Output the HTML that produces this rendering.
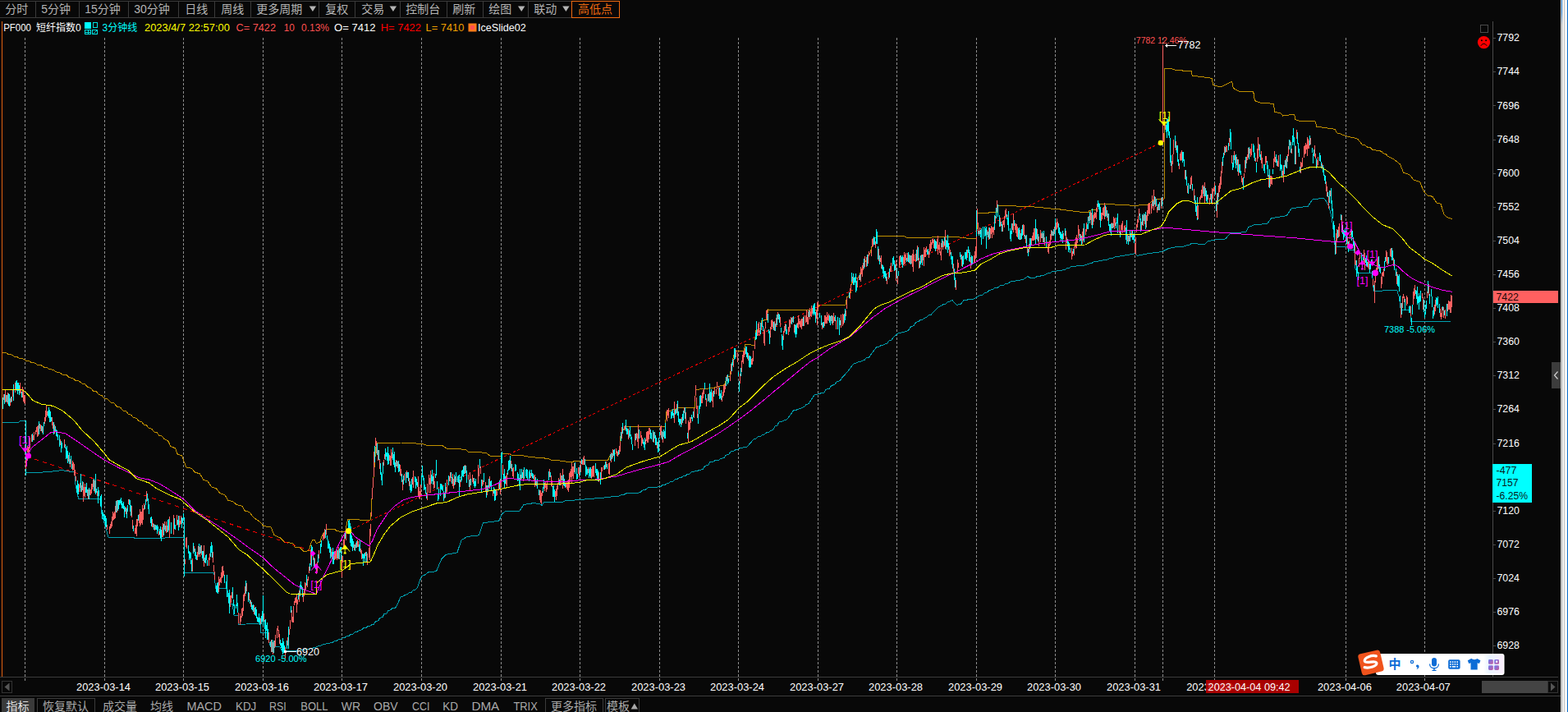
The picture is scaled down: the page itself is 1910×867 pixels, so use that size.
<!DOCTYPE html>
<html><head><meta charset="utf-8"><title>PF000</title>
<style>html,body{margin:0;padding:0;background:#080808;width:1910px;height:867px;overflow:hidden;font-family:"Liberation Sans",sans-serif}</style>
</head><body>
<svg width="1910" height="867" viewBox="0 0 1910 867" font-family="Liberation Sans, sans-serif" style="position:absolute;left:0;top:0">
<rect width="1910" height="867" fill="#080808"/>
<g shape-rendering="crispEdges" stroke="#8c8c8c" stroke-width="1" stroke-dasharray="3 2">
<line x1="30.5" y1="46" x2="30.5" y2="829"/>
<line x1="127.5" y1="46" x2="127.5" y2="829"/>
<line x1="223.5" y1="46" x2="223.5" y2="829"/>
<line x1="320.5" y1="46" x2="320.5" y2="829"/>
<line x1="416.5" y1="46" x2="416.5" y2="829"/>
<line x1="513.5" y1="46" x2="513.5" y2="829"/>
<line x1="610.5" y1="46" x2="610.5" y2="829"/>
<line x1="706.5" y1="46" x2="706.5" y2="829"/>
<line x1="803.5" y1="46" x2="803.5" y2="829"/>
<line x1="899.5" y1="46" x2="899.5" y2="829"/>
<line x1="996.5" y1="46" x2="996.5" y2="829"/>
<line x1="1092.5" y1="46" x2="1092.5" y2="829"/>
<line x1="1189.5" y1="46" x2="1189.5" y2="829"/>
<line x1="1285.5" y1="46" x2="1285.5" y2="829"/>
<line x1="1382.5" y1="46" x2="1382.5" y2="829"/>
<line x1="1416.5" y1="46" x2="1416.5" y2="829"/>
<line x1="1479.5" y1="46" x2="1479.5" y2="829"/>
<line x1="1639.5" y1="46" x2="1639.5" y2="829"/>
<line x1="1735.5" y1="46" x2="1735.5" y2="829"/>
</g>
<g shape-rendering="crispEdges">
<rect x="0" y="824" width="1898" height="1" fill="#3c3c3c"/>
<rect x="0" y="847" width="1901" height="1" fill="#3c3c3c"/>
<rect x="1818" y="26" width="1" height="798" fill="#4a4a4a"/>
<rect x="2" y="26" width="1" height="798" fill="#e06010"/>
</g>
<g shape-rendering="crispEdges">
<polyline points="3.0,514.7 22.0,514.7 25.0,512.0 31.0,512.0 31.5,576.0 60.0,574.6 75.0,572.6 91.0,575.0 92.0,590.0 95.7,607.7 121.9,607.7 124.0,626.0 132.0,654.0 163.8,654.0 164.0,656.0 224.0,654.4 224.0,697.0 260.7,697.0 262.7,716.0 276.7,716.0 279.0,735.0 283.0,735.0 285.0,749.0 290.0,749.0 290.7,760.5 317.3,759.0 317.3,770.7 325.0,770.7 329.5,787.8 341.0,787.8 343.5,793.0 347.3,793.0 361.0,792.4 365.0,792.2 367.8,791.3 371.7,791.0 374.7,790.1 379.1,789.9 381.5,789.0 384.3,788.6 386.6,787.1 389.8,786.7 391.7,785.3 401.8,783.0 404.9,782.6 406.9,781.0 409.7,780.6 412.0,779.0 415.1,778.6 417.0,777.0 419.7,776.6 422.0,775.0 425.1,774.5 427.1,772.5 430.0,772.0 432.3,770.0 435.1,769.5 437.4,767.5 440.4,767.0 442.4,765.0 445.8,764.6 447.5,763.0 450.4,762.6 452.6,761.0 455.5,760.0 457.6,756.6 460.9,755.7 462.7,752.3 466.2,751.3 467.8,747.8 471.0,746.9 472.9,743.4 475.9,742.8 477.9,740.8 481.5,740.3 483.0,738.3 488.0,727.0 490.8,726.4 493.1,724.4 496.6,723.8 498.3,721.8 501.3,721.1 503.4,718.6 506.2,718.0 508.4,715.5 513.5,701.5 517.6,700.0 521.4,697.0 531.5,695.7 537.9,680.5 543.0,675.4 556.9,672.9 562.0,657.7 568.3,653.9 571.2,653.7 573.4,653.0 576.4,652.8 578.5,652.2 581.9,652.0 583.6,651.3 588.6,636.6 607.7,634.3 611.5,625.9 615.3,622.9 633.0,622.0 638.0,614.5 650.8,612.5 658.4,614.0 660.2,615.8 662.2,612.0 673.7,611.2 683.8,612.0 688.9,609.4 700.0,609.0 725.4,606.9 729.0,606.8 731.8,606.2 735.8,606.1 738.1,605.6 742.2,605.5 744.4,604.9 748.3,604.8 750.8,604.3 754.8,603.9 757.1,602.4 760.6,602.0 763.5,600.5 776.0,600.5 779.5,599.8 782.4,597.2 786.1,596.5 788.8,594.0 801.5,593.0 804.8,592.6 806.6,591.0 809.7,590.6 811.7,589.0 814.7,588.5 816.8,586.5 820.0,586.0 821.8,584.0 824.9,583.6 826.9,582.0 829.9,581.6 832.0,580.0 835.3,579.5 837.0,577.5 840.3,577.0 842.0,575.0 852.3,572.6 856.0,571.5 858.6,567.5 862.7,566.4 865.0,562.4 869.0,562.0 871.4,560.5 875.7,560.1 877.7,558.6 881.9,557.6 884.0,554.2 887.8,553.2 890.4,549.7 893.9,549.3 895.5,547.9 898.3,547.4 900.5,546.0 903.6,545.7 905.6,544.7 909.0,544.4 910.7,543.4 918.3,534.5 921.1,533.9 923.3,532.0 926.5,531.4 928.4,529.4 931.2,528.9 933.5,526.9 936.8,526.4 938.6,524.4 941.9,523.3 943.7,519.2 946.8,518.1 948.7,514.0 952.2,513.6 953.8,512.2 956.8,511.8 958.9,510.4 966.5,500.0 969.8,499.6 971.5,498.2 974.8,497.8 976.6,496.4 979.8,495.6 981.7,492.6 984.8,491.8 986.8,488.8 991.9,481.0 999.5,479.0 1003.9,478.0 1006.0,474.2 1010.5,473.2 1012.5,469.5 1016.6,468.5 1019.1,464.8 1023.3,463.7 1025.6,460.0 1032.0,453.2 1039.6,443.0 1042.4,442.6 1044.7,441.1 1047.9,440.7 1049.7,439.2 1053.0,438.5 1054.8,436.0 1058.4,435.4 1059.9,432.9 1067.5,422.7 1070.9,422.3 1072.6,420.9 1075.6,420.4 1077.7,419.0 1080.7,418.2 1082.8,415.1 1086.0,414.3 1087.8,411.3 1093.4,406.2 1103.0,403.7 1106.5,402.4 1109.3,398.0 1113.2,396.7 1115.7,392.3 1118.6,391.7 1120.8,389.8 1123.6,389.2 1125.9,387.2 1128.7,386.5 1131.0,384.0 1134.3,383.4 1136.0,380.9 1143.7,373.2 1146.5,372.6 1148.8,370.7 1151.7,370.1 1153.8,368.2 1160.0,365.6 1165.2,371.5 1170.5,370.2 1174.0,365.6 1186.8,363.9 1192.7,360.0 1197.0,359.3 1199.1,356.6 1202.6,355.9 1205.4,353.2 1209.3,352.6 1211.7,350.6 1215.7,350.0 1218.0,348.0 1222.4,347.4 1224.4,345.5 1228.7,344.9 1230.8,343.0 1246.0,340.5 1251.8,336.7 1256.0,338.7 1260.3,338.3 1262.4,337.0 1266.1,336.7 1268.8,335.4 1272.7,334.9 1275.2,333.1 1278.9,332.6 1281.5,330.8 1294.2,329.0 1297.7,328.5 1299.3,326.9 1302.8,326.4 1304.4,324.7 1319.6,323.2 1323.2,322.7 1325.9,321.1 1329.6,320.6 1332.3,319.0 1336.0,318.7 1338.7,317.7 1342.3,317.4 1345.0,316.4 1348.9,316.0 1351.3,314.7 1355.4,314.3 1357.7,313.0 1373.0,310.5 1382.5,308.8 1385.6,311.3 1398.3,308.8 1401.7,308.6 1404.2,307.9 1407.4,307.7 1410.1,307.1 1413.7,306.9 1416.0,306.2 1423.7,302.4 1433.8,300.4 1440.0,300.3 1443.3,299.9 1445.5,298.5 1449.0,298.0 1451.0,296.6 1467.7,297.5 1471.4,293.8 1479.7,292.0 1492.6,291.0 1499.0,283.7 1517.5,282.7 1521.2,276.3 1528.6,273.5 1543.4,272.6 1548.9,265.2 1553.2,265.0 1555.1,264.3 1559.1,264.1 1561.2,263.3 1565.1,263.1 1567.4,262.4 1572.9,254.0 1584.0,252.3 1593.2,251.4 1598.7,243.0 1612.6,241.2 1615.3,244.9 1619.0,251.4 1621.9,263.5 1623.7,276.0 1626.2,300.0 1641.0,300.0 1642.2,304.0 1649.8,304.0 1651.0,327.0 1654.0,332.0 1671.4,332.0 1673.4,354.3 1701.8,353.5 1704.4,362.4 1706.4,377.7 1718.3,377.7 1719.0,391.6 1768.6,391.0" fill="none" stroke="#00a0b0" stroke-width="1" />
<polyline points="3.0,429.0 7.5,429.6 10.0,431.5 14.5,432.1 17.0,434.0 20.8,434.6 24.0,436.5 28.8,437.1 31.0,439.0 35.8,439.6 38.2,441.6 43.2,442.2 45.5,444.2 50.3,444.8 52.8,446.9 57.1,447.5 60.0,449.5 64.8,450.2 68.0,452.8 72.5,453.5 76.0,456.0 81.1,456.8 84.0,459.7 88.4,460.5 92.0,463.3 96.4,464.1 100.0,467.0 103.9,468.0 106.8,471.5 110.6,472.5 113.5,476.0 117.5,477.0 120.2,480.5 124.0,481.5 127.0,485.0 131.1,486.1 134.7,490.0 139.0,491.1 142.3,495.0 146.6,496.1 150.0,500.0 153.7,500.9 156.2,504.2 159.7,505.2 162.5,508.5 166.7,509.4 168.8,512.8 172.7,513.7 175.0,517.0 178.5,518.0 181.2,521.4 184.9,522.3 187.5,525.8 191.2,526.7 193.8,530.1 197.5,531.1 200.0,534.5 204.5,536.5 208.0,543.7 213.4,545.7 216.0,552.8 221.6,554.9 224.0,562.0 227.0,569.0 233.4,570.3 237.4,575.0 243.6,577.0 247.5,584.0 253.1,586.0 257.7,593.0 263.3,594.7 267.8,600.6 273.9,602.6 278.0,609.5 283.8,610.6 288.0,614.6 294.9,616.2 298.3,622.0 304.0,623.7 308.4,629.8 317.3,636.0 321.0,640.7 330.0,641.7 333.8,651.4 341.4,655.0 346.5,660.0 356.6,661.5 359.2,666.6 365.0,666.3 370.0,671.4 376.4,670.8 379.0,660.6 380.9,657.4 383.4,657.4 385.3,661.2 389.7,660.6 392.3,651.7 398.0,644.7 408.0,644.4 410.0,646.9 420.8,647.3 423.4,632.7 436.0,632.4 438.6,633.3 451.3,633.0 452.3,620.0 453.0,607.0 455.4,576.4 458.4,539.0 488.4,539.0 513.8,540.4 518.8,542.0 539.0,542.7 544.2,546.0 567.0,547.3 570.9,550.6 587.4,551.0 592.9,552.0 597.5,555.6 610.2,556.0 611.5,552.3 619.0,552.3 622.9,554.0 635.6,554.4 645.7,556.6 658.4,557.4 662.8,557.7 664.7,558.7 668.6,559.0 671.0,560.0 683.8,561.2 696.5,563.0 700.3,561.2 710.0,561.0 711.4,560.0 740.6,560.4 743.0,554.8 746.3,554.2 748.8,552.2 752.4,551.7 754.6,549.7 756.3,527.0 762.2,519.3 776.0,519.8 810.4,519.3 811.7,501.5 815.2,501.0 818.0,499.2 822.0,498.8 824.4,497.0 846.7,496.4 847.2,474.4 857.4,473.6 862.7,473.3 865.0,472.3 870.2,472.0 872.6,471.0 882.7,468.5 885.3,459.6 889.0,458.4 890.9,445.7 895.0,427.4 906.3,427.3 907.6,419.7 919.0,420.2 920.8,402.4 926.6,400.0 927.4,390.3 933.8,389.7 935.5,377.0 950.8,377.6 996.4,377.0 997.7,371.5 1030.0,371.5 1031.5,361.8 1035.8,359.3 1037.6,340.3 1046.0,337.7 1052.3,321.2 1060.0,308.5 1063.7,293.3 1068.0,287.5 1100.5,287.5 1105.6,289.5 1133.5,289.5 1137.3,288.2 1166.5,288.7 1179.2,290.3 1189.6,290.3 1190.7,259.3 1214.3,258.8 1215.5,250.7 1251.0,251.2 1255.6,251.4 1258.1,251.9 1262.3,252.1 1265.2,252.6 1269.5,252.8 1272.4,253.3 1276.4,253.5 1279.5,254.0 1284.2,254.2 1286.6,254.7 1291.0,254.9 1293.6,255.5 1298.2,255.7 1300.5,256.3 1304.7,256.5 1307.5,257.2 1311.5,257.4 1314.5,258.0 1326.0,258.8 1327.2,256.2 1334.8,255.5 1337.9,248.6 1357.7,249.0 1383.0,250.4 1398.3,249.0 1405.9,242.8 1416.8,242.3 1418.5,242.0 1418.5,83.3 1425.7,83.3 1433.3,85.8 1451.0,86.3 1452.3,92.2 1457.7,92.5 1460.3,93.5 1465.9,93.7 1468.4,94.7 1473.8,95.0 1476.4,96.0 1477.7,103.6 1486.6,106.0 1491.7,103.6 1500.6,99.3 1502.3,107.4 1509.4,111.2 1526.7,111.7 1528.5,122.6 1534.8,125.0 1551.3,126.4 1553.0,136.6 1559.5,137.6 1562.7,141.0 1576.7,139.0 1578.0,145.5 1583.0,147.3 1602.0,147.8 1603.9,154.4 1608.9,154.6 1611.3,155.5 1616.2,155.7 1618.8,156.6 1623.1,156.8 1626.2,157.7 1628.7,162.0 1632.0,162.4 1634.1,163.9 1637.2,164.3 1639.4,165.8 1643.4,166.2 1646.7,167.7 1650.7,168.1 1654.0,169.6 1659.2,176.0 1662.9,176.7 1665.6,179.2 1669.2,179.8 1671.9,182.3 1679.5,183.6 1682.9,184.3 1684.8,186.8 1688.4,187.5 1690.0,190.0 1698.0,194.0 1705.6,200.0 1709.4,210.0 1717.0,212.7 1722.0,219.0 1729.7,221.6 1733.6,231.7 1738.6,238.0 1745.0,239.3 1750.0,247.0 1755.0,248.2 1759.0,261.0 1762.7,264.7 1768.6,266.5" fill="none" stroke="#c09000" stroke-width="1" />
<line x1="33" y1="556" x2="380" y2="671" stroke="#ff0000" stroke-width="1" stroke-dasharray="5 5"/>
<line x1="424.5" y1="646.5" x2="1414" y2="174" stroke="#ff0000" stroke-width="1" stroke-dasharray="3 3"/>
<path d="M3.5 484V498M5.5 480V492M8.5 481V490M10.5 479V494M11.5 480V495M13.5 483V490M16.5 468V488M19.5 464V474M20.5 463V476M21.5 466V480M22.5 466V476M23.5 469V481M26.5 477V484M39.5 528V538M47.5 513V529M50.5 518V525M52.5 519V529M53.5 514V519M58.5 500V507M59.5 496V509M60.5 499V514M61.5 501V514M62.5 508V513M65.5 514V529M67.5 519V526M68.5 523V531M69.5 524V532M70.5 529V536M72.5 530V544M74.5 537V551M75.5 539V546M79.5 541V546M80.5 545V559M81.5 543V558M82.5 549V564M84.5 551V565M86.5 555V565M87.5 565V571M93.5 591V600M94.5 585V602M95.5 589V602M98.5 577V599M100.5 586V597M104.5 593V600M105.5 588V600M106.5 596V604M108.5 594V608M114.5 583V598M116.5 577V602M117.5 595V600M119.5 593V613M120.5 597V604M122.5 604V616M123.5 602V618M124.5 621V632M125.5 624V629M126.5 626V633M127.5 627V635M128.5 628V641M129.5 631V642M141.5 610V624M143.5 609V622M144.5 609V620M145.5 609V615M146.5 608V613M147.5 606V615M148.5 610V619M149.5 613V619M150.5 611V620M151.5 616V630M152.5 618V623M154.5 619V631M155.5 615V623M157.5 608V615M158.5 609V623M159.5 615V628M162.5 640V647M168.5 627V634M176.5 615V620M177.5 608V615M179.5 601V610M180.5 607V620M181.5 614V626M183.5 630V637M184.5 629V641M187.5 638V645M189.5 639V645M190.5 640V645M191.5 639V650M192.5 641V647M194.5 644V651M195.5 641V655M196.5 645V659M199.5 638V652M201.5 640V647M204.5 633V648M205.5 632V646M208.5 636V650M212.5 631V644M213.5 639V645M216.5 633V639M217.5 628V646M221.5 630V643M222.5 631V637M223.5 625V632M224.5 630V702M229.5 664V674M230.5 671V682M231.5 672V680M232.5 673V687M233.5 682V696M235.5 661V674M237.5 668V677M238.5 672V681M239.5 676V682M242.5 662V675M244.5 664V674M246.5 671V680M247.5 671V683M249.5 679V685M250.5 676V686M251.5 675V682M252.5 682V689M256.5 665V678M257.5 660V673M258.5 664V679M263.5 713V721M264.5 710V722M265.5 709V723M273.5 700V710M275.5 708V717M276.5 700V727M278.5 722V734M279.5 718V747M283.5 715V729M284.5 730V738M285.5 736V748M287.5 736V741M288.5 724V738M289.5 734V746M299.5 707V723M302.5 721V733M304.5 730V735M306.5 733V742M307.5 737V743M308.5 736V745M310.5 740V749M311.5 739V750M312.5 742V753M313.5 751V757M314.5 752V758M315.5 747V758M316.5 752V761M318.5 750V760M319.5 744V757M320.5 743V754M322.5 755V766M323.5 754V777M324.5 761V768M325.5 758V779M326.5 766V779M329.5 781V788M331.5 779V794M333.5 780V795M341.5 779V786M342.5 783V789M343.5 783V792M344.5 777V797M345.5 781V795M346.5 786V794M349.5 780V790M351.5 763V790M354.5 738V746M363.5 722V730M365.5 712V726M366.5 708V717M367.5 713V718M368.5 715V727M373.5 700V713M377.5 686V695M379.5 664V690M380.5 666V674M382.5 679V690M384.5 687V693M387.5 675V685M390.5 662V674M391.5 658V666M396.5 645V655M398.5 652V657M399.5 657V668M400.5 659V668M401.5 662V673M402.5 666V680M404.5 672V681M405.5 667V687M406.5 672V687M411.5 670V680M413.5 668V681M414.5 666V673M415.5 666V683M420.5 649V656M424.5 634V643M425.5 633V649M426.5 637V661M427.5 641V665M428.5 652V666M429.5 656V671M430.5 659V667M432.5 663V671M434.5 659V667M437.5 663V671M438.5 658V672M441.5 674V680M442.5 675V689M443.5 674V680M444.5 673V685M446.5 672V684M456.5 543V563M459.5 540V554M461.5 548V560M463.5 564V578M464.5 575V585M465.5 577V591M466.5 563V577M469.5 546V560M470.5 551V556M471.5 551V561M472.5 544V566M473.5 552V565M478.5 545V560M479.5 553V566M480.5 550V569M481.5 563V575M483.5 561V568M485.5 561V575M486.5 565V574M489.5 577V587M491.5 579V590M494.5 575V588M496.5 575V582M497.5 575V586M499.5 586V597M500.5 590V600M501.5 583V598M505.5 580V587M506.5 581V595M507.5 583V591M508.5 587V593M513.5 579V591M514.5 567V581M515.5 579V585M516.5 582V597M517.5 590V596M518.5 593V601M519.5 600V607M525.5 578V589M526.5 572V586M527.5 580V590M530.5 577V582M531.5 560V579M532.5 586V596M533.5 602V610M534.5 595V608M536.5 589V604M537.5 589V596M538.5 590V597M539.5 592V598M540.5 598V610M542.5 588V606M546.5 579V591M549.5 575V582M550.5 581V589M553.5 578V591M555.5 575V587M557.5 580V587M558.5 579V588M559.5 578V604M561.5 580V587M562.5 573V585M563.5 572V580M564.5 568V581M565.5 567V577M567.5 567V576M568.5 573V588M571.5 584V593M573.5 583V591M577.5 582V592M578.5 586V594M579.5 583V592M584.5 559V570M586.5 584V599M589.5 576V587M592.5 591V606M594.5 591V599M595.5 583V594M597.5 586V593M598.5 585V598M601.5 593V601M602.5 595V610M603.5 596V609M608.5 585V596M611.5 550V564M613.5 577V587M614.5 571V595M615.5 580V589M618.5 572V578M619.5 561V573M620.5 560V572M621.5 555V570M623.5 565V574M627.5 565V574M628.5 566V573M630.5 575V586M631.5 577V585M632.5 582V592M633.5 571V597M635.5 571V583M636.5 575V582M638.5 569V583M640.5 572V580M641.5 571V582M642.5 572V585M644.5 574V586M645.5 572V582M647.5 572V580M648.5 576V582M649.5 577V583M652.5 581V591M654.5 583V595M656.5 596V603M661.5 593V600M662.5 584V595M668.5 574V585M670.5 575V581M673.5 592V605M674.5 591V605M675.5 596V611M681.5 584V591M684.5 579V585M686.5 578V591M687.5 583V592M688.5 588V594M700.5 563V577M702.5 570V584M703.5 577V583M706.5 567V579M708.5 559V565M712.5 559V566M713.5 566V580M714.5 568V578M715.5 571V578M717.5 571V582M718.5 569V580M719.5 569V582M725.5 564V576M726.5 571V579M727.5 571V584M728.5 573V586M731.5 575V590M736.5 566V572M737.5 562V571M739.5 565V571M743.5 553V561M745.5 552V559M747.5 548V555M748.5 547V562M753.5 548V554M756.5 526V537M758.5 515V528M762.5 511V525M763.5 521V529M764.5 522V529M766.5 524V533M767.5 519V531M768.5 529V535M769.5 532V541M770.5 541V548M774.5 528V536M778.5 523V534M783.5 535V541M784.5 538V545M785.5 533V548M792.5 523V534M793.5 527V535M795.5 524V538M797.5 526V534M798.5 530V542M799.5 533V542M801.5 538V551M802.5 533V550M803.5 526V531M806.5 525V535M808.5 523V532M809.5 525V534M810.5 515V534M817.5 501V510M818.5 501V509M819.5 498V506M820.5 503V509M822.5 499V505M823.5 498V504M825.5 488V506M826.5 501V514M827.5 510V518M828.5 510V516M829.5 510V520M831.5 504V515M832.5 500V512M834.5 496V510M837.5 527V534M842.5 505V510M843.5 508V513M844.5 501V508M850.5 504V516M851.5 494V504M852.5 482V498M853.5 481V495M858.5 466V474M859.5 480V487M862.5 480V489M864.5 467V490M865.5 477V490M866.5 474V488M869.5 476V483M876.5 472V486M877.5 479V485M878.5 475V487M884.5 459V470M886.5 456V468M887.5 461V466M891.5 442V452M892.5 438V445M894.5 424V438M895.5 424V437M899.5 453V458M900.5 464V477M902.5 448V458M908.5 422V431M909.5 422V435M910.5 429V437M912.5 433V447M913.5 433V448M914.5 434V447M920.5 405V414M921.5 391V413M926.5 393V407M928.5 387V398M929.5 397V403M935.5 382V393M936.5 401V406M937.5 403V419M942.5 392V402M944.5 394V403M946.5 383V396M948.5 382V389M949.5 383V393M951.5 399V405M952.5 407V421M953.5 409V426M957.5 395V407M958.5 401V407M964.5 387V395M966.5 385V393M968.5 395V407M969.5 396V411M970.5 394V407M978.5 386V397M985.5 378V386M990.5 372V384M991.5 370V382M992.5 369V384M993.5 380V393M998.5 381V387M1000.5 384V396M1002.5 392V399M1003.5 392V399M1010.5 384V393M1011.5 385V396M1013.5 384V394M1017.5 384V391M1020.5 386V401M1022.5 387V408M1023.5 390V396M1028.5 382V393M1029.5 376V390M1034.5 356V363M1037.5 332V343M1039.5 333V347M1040.5 338V347M1041.5 337V344M1042.5 333V356M1043.5 342V354M1047.5 334V341M1052.5 315V327M1056.5 310V324M1064.5 288V298M1065.5 289V298M1067.5 279V297M1068.5 282V297M1069.5 300V316M1071.5 311V322M1074.5 322V328M1075.5 323V333M1076.5 325V339M1077.5 330V337M1078.5 330V339M1079.5 333V342M1083.5 327V338M1087.5 314V324M1088.5 312V322M1089.5 317V330M1090.5 322V329M1092.5 326V339M1094.5 330V336M1097.5 311V319M1098.5 313V322M1099.5 311V326M1104.5 314V319M1106.5 307V319M1107.5 310V320M1109.5 311V322M1116.5 304V318M1118.5 301V317M1120.5 318V326M1121.5 311V322M1123.5 310V323M1129.5 304V310M1130.5 303V310M1138.5 291V303M1139.5 293V306M1140.5 294V303M1147.5 291V301M1150.5 289V299M1152.5 292V304M1153.5 293V301M1154.5 286V308M1155.5 296V304M1158.5 307V316M1159.5 312V322M1160.5 312V327M1162.5 327V341M1163.5 338V350M1169.5 307V313M1170.5 310V316M1172.5 312V325M1173.5 311V322M1175.5 307V316M1176.5 307V315M1177.5 304V317M1179.5 300V308M1180.5 304V318M1181.5 307V319M1183.5 311V323M1184.5 312V322M1192.5 281V287M1194.5 280V289M1195.5 278V298M1197.5 276V291M1199.5 276V288M1200.5 278V287M1201.5 276V303M1203.5 282V289M1205.5 277V291M1211.5 262V280M1213.5 253V266M1215.5 249V264M1217.5 262V276M1219.5 270V275M1220.5 273V282M1226.5 261V267M1227.5 265V274M1228.5 257V281M1230.5 278V291M1231.5 281V294M1232.5 272V285M1235.5 268V275M1240.5 278V291M1241.5 277V292M1243.5 284V292M1244.5 279V291M1245.5 274V287M1248.5 286V291M1250.5 286V300M1252.5 303V312M1254.5 290V303M1255.5 290V301M1261.5 267V297M1262.5 278V291M1264.5 285V294M1269.5 282V290M1271.5 281V295M1274.5 288V302M1281.5 281V287M1283.5 279V287M1285.5 266V295M1289.5 272V284M1290.5 277V286M1291.5 282V290M1292.5 283V294M1293.5 285V291M1294.5 281V296M1297.5 278V287M1300.5 291V300M1301.5 294V307M1302.5 296V304M1303.5 302V308M1307.5 303V309M1315.5 285V294M1317.5 287V299M1320.5 272V295M1324.5 273V279M1325.5 264V279M1327.5 258V272M1330.5 254V278M1337.5 244V252M1338.5 247V255M1339.5 248V268M1340.5 252V277M1346.5 250V264M1348.5 256V265M1350.5 260V275M1351.5 273V282M1352.5 273V283M1353.5 272V287M1355.5 272V278M1359.5 271V278M1360.5 265V272M1361.5 260V284M1364.5 281V289M1371.5 277V292M1372.5 268V297M1374.5 287V298M1376.5 280V294M1377.5 284V289M1379.5 280V292M1380.5 285V292M1381.5 284V296M1388.5 260V268M1389.5 266V282M1391.5 261V274M1393.5 260V269M1395.5 258V279M1404.5 245V251M1406.5 239V249M1408.5 242V251M1410.5 249V256M1412.5 246V256M1415.5 240V251M1420.5 152V161M1421.5 144V168M1422.5 145V160M1423.5 142V165M1424.5 160V168M1425.5 168V198M1426.5 189V202M1431.5 165V180M1433.5 177V186M1434.5 177V197M1435.5 194V202M1440.5 185V198M1441.5 185V196M1442.5 194V203M1444.5 207V219M1445.5 215V226M1447.5 223V236M1449.5 225V230M1452.5 224V232M1455.5 238V247M1456.5 244V258M1457.5 251V263M1466.5 227V239M1468.5 229V239M1469.5 232V245M1470.5 237V248M1475.5 236V247M1480.5 226V237M1481.5 244V257M1483.5 235V249M1489.5 191V202M1490.5 186V192M1492.5 179V186M1496.5 174V183M1498.5 157V173M1499.5 161V182M1501.5 198V207M1502.5 189V204M1504.5 189V199M1505.5 188V205M1507.5 194V209M1509.5 200V210M1510.5 200V211M1511.5 208V213M1514.5 216V231M1517.5 191V205M1521.5 179V194M1526.5 175V185M1527.5 177V192M1528.5 186V196M1530.5 198V210M1534.5 176V191M1535.5 188V195M1539.5 200V208M1540.5 200V211M1543.5 196V206M1544.5 201V215M1546.5 206V229M1550.5 206V212M1554.5 188V198M1555.5 194V202M1559.5 188V208M1560.5 200V206M1561.5 201V215M1564.5 201V212M1565.5 195V203M1567.5 190V205M1570.5 170V182M1572.5 173V186M1574.5 165V177M1575.5 156V173M1576.5 167V177M1577.5 177V200M1580.5 161V175M1581.5 174V186M1582.5 181V191M1583.5 203V210M1595.5 165V177M1598.5 180V186M1599.5 187V199M1600.5 182V190M1603.5 193V205M1607.5 186V196M1608.5 189V197M1609.5 197V205M1611.5 201V210M1612.5 204V214M1613.5 213V220M1614.5 214V224M1617.5 234V240M1619.5 232V247M1621.5 229V248M1622.5 244V257M1623.5 254V266M1624.5 269V280M1625.5 274V292M1626.5 293V310M1629.5 280V290M1633.5 261V268M1635.5 274V285M1636.5 280V292M1637.5 281V289M1638.5 279V287M1639.5 282V291M1640.5 274V297M1642.5 294V307M1646.5 279V293M1647.5 281V289M1648.5 289V299M1649.5 295V305M1652.5 317V337M1653.5 324V333M1654.5 331V341M1658.5 308V322M1659.5 317V325M1660.5 310V317M1663.5 315V320M1664.5 311V324M1665.5 319V325M1668.5 321V332M1669.5 319V328M1670.5 316V321M1671.5 330V338M1673.5 347V354M1679.5 312V327M1680.5 322V331M1681.5 326V333M1686.5 318V330M1687.5 313V319M1691.5 313V321M1695.5 302V317M1696.5 305V317M1698.5 316V329M1700.5 327V336M1702.5 334V348M1703.5 336V349M1704.5 334V355M1705.5 360V367M1707.5 369V383M1711.5 364V378M1716.5 373V381M1717.5 372V381M1719.5 387V396M1720.5 371V383M1724.5 353V358M1725.5 354V364M1726.5 349V371M1727.5 361V369M1728.5 357V377M1729.5 360V368M1730.5 354V367M1734.5 365V380M1735.5 380V387M1736.5 371V383M1737.5 366V376M1739.5 342V357M1741.5 358V370M1743.5 352V361M1744.5 361V374M1745.5 378V388M1746.5 374V385M1749.5 362V373M1750.5 363V371M1751.5 361V375M1753.5 370V381M1757.5 373V378M1759.5 378V384M1762.5 370V385M31.5 512V579M320.5 725V762M1458.5 240V268M610.5 552V592M1189.5 256V300M224.5 634V701" stroke="#00ffff" stroke-width="1" fill="none"/>
<path d="M4.5 480V487M6.5 475V490M7.5 481V489M9.5 478V492M12.5 485V494M14.5 483V489M15.5 474V483M18.5 466V478M24.5 466V479M25.5 474V479M27.5 471V484M28.5 474V489M29.5 481V491M30.5 482V492M31.5 560V571M32.5 557V563M33.5 543V551M34.5 544V551M35.5 531V550M36.5 533V546M38.5 529V538M40.5 530V536M41.5 526V536M43.5 524V529M44.5 520V526M45.5 519V532M46.5 518V531M48.5 516V522M49.5 517V525M51.5 519V527M54.5 508V516M55.5 500V513M56.5 493V508M57.5 501V506M63.5 508V518M64.5 514V522M66.5 517V528M73.5 535V542M78.5 535V545M83.5 554V562M85.5 559V569M88.5 561V573M89.5 563V572M90.5 565V579M91.5 572V580M92.5 580V586M96.5 590V599M97.5 588V594M99.5 591V599M101.5 587V611M102.5 593V604M103.5 589V606M107.5 596V608M109.5 596V603M110.5 596V603M111.5 589V601M112.5 589V596M113.5 584V593M115.5 585V600M118.5 598V604M130.5 639V645M133.5 641V650M134.5 638V644M135.5 635V643M136.5 629V641M137.5 623V634M138.5 625V633M139.5 623V632M140.5 616V631M142.5 609V624M153.5 617V626M156.5 608V614M160.5 616V630M161.5 633V644M164.5 643V650M165.5 639V650M166.5 632V653M167.5 632V641M169.5 626V637M170.5 620V641M171.5 623V639M172.5 623V637M173.5 615V639M174.5 619V633M175.5 613V621M178.5 598V611M185.5 632V642M186.5 637V642M188.5 639V646M193.5 647V652M197.5 642V654M198.5 637V654M200.5 635V645M202.5 635V649M203.5 640V648M206.5 629V655M211.5 627V651M215.5 627V640M218.5 628V642M219.5 634V639M220.5 628V638M225.5 681V687M226.5 655V666M227.5 654V668M234.5 680V696M236.5 665V672M240.5 672V682M241.5 665V678M243.5 666V678M245.5 664V676M248.5 664V690M254.5 679V689M255.5 674V682M259.5 672V685M260.5 688V696M261.5 696V706M266.5 702V721M267.5 705V713M268.5 703V709M269.5 697V710M270.5 690V704M271.5 689V703M272.5 695V701M280.5 725V739M281.5 725V734M282.5 721V728M290.5 746V759M292.5 747V761M293.5 750V757M294.5 741V752M295.5 740V750M296.5 724V744M297.5 722V732M298.5 714V726M300.5 710V720M303.5 722V731M305.5 731V739M309.5 737V748M317.5 753V760M321.5 747V757M327.5 770V783M330.5 779V794M332.5 782V797M334.5 780V789M335.5 773V787M337.5 765V777M338.5 762V768M339.5 767V776M340.5 772V784M347.5 788V802M350.5 776V786M352.5 766V773M353.5 755V766M355.5 743V757M356.5 751V758M357.5 738V758M358.5 732V737M359.5 728V734M360.5 727V734M361.5 724V746M362.5 730V736M364.5 719V733M369.5 722V733M370.5 717V726M371.5 709V724M372.5 710V719M374.5 705V715M375.5 702V707M376.5 690V698M378.5 669V688M381.5 672V682M383.5 680V690M385.5 688V699M386.5 684V696M388.5 670V680M393.5 650V658M394.5 649V656M395.5 644V656M397.5 638V651M403.5 668V678M407.5 671V682M408.5 672V681M409.5 671V680M410.5 667V682M412.5 666V681M416.5 678V703M417.5 677V685M418.5 657V669M419.5 649V664M421.5 644V658M431.5 663V670M433.5 661V667M435.5 657V666M436.5 659V666M439.5 668V674M440.5 670V681M445.5 672V677M447.5 674V688M449.5 667V679M450.5 644V682M451.5 638V653M452.5 623V629M453.5 594V608M454.5 582V594M455.5 550V580M457.5 533V543M458.5 537V552M460.5 548V561M462.5 559V571M467.5 560V567M468.5 553V559M474.5 554V561M475.5 555V567M476.5 547V567M477.5 551V558M482.5 560V568M484.5 562V570M487.5 566V579M488.5 571V580M490.5 584V597M492.5 577V585M495.5 573V582M498.5 582V592M502.5 581V590M503.5 573V594M509.5 580V605M510.5 593V607M511.5 598V608M512.5 590V603M520.5 589V609M522.5 578V600M523.5 582V590M524.5 573V600M528.5 576V595M529.5 586V594M541.5 600V607M543.5 593V601M544.5 584V599M547.5 580V586M548.5 575V586M551.5 577V592M552.5 583V595M554.5 580V590M560.5 584V593M566.5 566V577M570.5 578V584M572.5 575V598M575.5 578V587M576.5 582V589M582.5 566V589M583.5 570V580M585.5 568V577M587.5 584V592M588.5 585V590M591.5 587V598M593.5 591V603M596.5 580V595M600.5 598V604M604.5 596V604M605.5 598V603M607.5 589V597M609.5 583V602M610.5 585V593M612.5 566V578M616.5 579V590M617.5 576V592M622.5 561V571M624.5 570V580M625.5 569V582M634.5 578V585M637.5 572V586M646.5 576V582M650.5 579V586M651.5 578V593M653.5 586V592M657.5 597V609M658.5 597V612M659.5 600V614M660.5 598V604M663.5 588V598M664.5 587V594M665.5 589V599M666.5 585V596M669.5 571V581M671.5 579V592M672.5 585V593M676.5 598V605M677.5 595V609M678.5 591V604M679.5 588V596M680.5 582V589M682.5 576V591M683.5 579V591M685.5 571V595M689.5 587V593M690.5 588V595M691.5 586V597M692.5 584V599M693.5 576V594M694.5 574V587M695.5 571V581M696.5 564V588M697.5 568V580M698.5 568V583M699.5 564V575M704.5 569V577M705.5 569V581M707.5 561V575M709.5 560V566M710.5 557V566M711.5 555V566M716.5 569V576M720.5 571V583M721.5 568V581M722.5 567V580M723.5 567V581M729.5 575V587M732.5 569V584M733.5 569V574M735.5 567V572M738.5 562V569M741.5 564V577M742.5 563V578M744.5 551V563M746.5 547V557M750.5 546V551M751.5 549V555M752.5 550V556M754.5 543V553M755.5 538V550M757.5 520V534M760.5 519V524M761.5 518V523M765.5 522V535M773.5 528V543M775.5 527V534M776.5 528V538M777.5 517V546M780.5 525V533M781.5 530V543M782.5 533V540M786.5 535V541M787.5 526V537M788.5 525V539M789.5 525V539M790.5 521V535M791.5 521V529M796.5 526V539M800.5 538V546M804.5 519V530M805.5 518V533M807.5 526V539M812.5 499V513M813.5 499V506M814.5 497V509M821.5 489V515M824.5 492V503M830.5 508V517M833.5 496V503M835.5 502V516M838.5 512V539M839.5 514V524M840.5 508V523M841.5 508V515M845.5 497V509M846.5 482V489M847.5 469V481M848.5 484V498M849.5 494V509M854.5 482V491M855.5 478V491M856.5 475V485M857.5 473V480M860.5 485V495M863.5 479V488M867.5 478V489M868.5 476V496M870.5 472V480M872.5 474V480M873.5 465V474M875.5 470V482M879.5 482V489M880.5 477V484M881.5 469V482M882.5 469V478M883.5 467V474M885.5 457V464M889.5 457V464M890.5 443V456M893.5 437V447M896.5 426V435M898.5 429V441M901.5 455V467M903.5 439V453M904.5 432V441M905.5 428V443M906.5 427V435M907.5 424V432M911.5 430V439M915.5 437V444M916.5 436V444M917.5 427V440M919.5 415V425M922.5 402V409M923.5 394V409M924.5 392V405M925.5 402V409M927.5 393V402M930.5 402V418M931.5 400V421M932.5 392V400M933.5 378V388M934.5 377V390M938.5 398V411M939.5 390V401M940.5 389V398M941.5 391V399M943.5 391V403M945.5 387V398M947.5 380V389M950.5 386V398M954.5 403V414M955.5 397V405M956.5 394V403M960.5 398V408M961.5 389V404M962.5 390V399M963.5 386V394M965.5 386V392M967.5 395V405M971.5 393V399M972.5 384V400M973.5 388V395M974.5 391V398M975.5 389V399M976.5 388V401M977.5 388V397M979.5 384V397M981.5 384V393M982.5 377V392M983.5 386V395M984.5 380V395M986.5 375V389M987.5 379V385M988.5 372V386M989.5 375V382M994.5 378V388M995.5 368V396M996.5 367V378M1001.5 393V401M1004.5 384V397M1005.5 384V394M1006.5 386V394M1007.5 380V394M1008.5 384V390M1009.5 382V391M1012.5 384V391M1014.5 385V396M1015.5 381V393M1016.5 386V391M1018.5 390V401M1024.5 383V399M1026.5 382V397M1027.5 383V395M1030.5 378V385M1031.5 363V376M1035.5 351V364M1036.5 346V353M1038.5 337V345M1044.5 338V350M1046.5 335V341M1048.5 325V343M1049.5 328V334M1050.5 323V337M1051.5 320V329M1053.5 312V325M1055.5 313V325M1057.5 310V321M1058.5 306V312M1061.5 304V312M1062.5 291V301M1063.5 290V300M1066.5 294V302M1070.5 303V318M1072.5 314V319M1073.5 311V327M1080.5 337V346M1082.5 331V340M1084.5 324V331M1085.5 320V331M1091.5 317V342M1093.5 336V346M1095.5 312V326M1096.5 311V323M1100.5 313V323M1101.5 307V322M1102.5 310V321M1103.5 308V317M1105.5 308V318M1108.5 311V321M1110.5 311V321M1111.5 309V325M1112.5 304V331M1113.5 310V317M1115.5 309V319M1117.5 299V317M1119.5 314V327M1122.5 310V320M1124.5 310V317M1125.5 301V324M1126.5 304V313M1127.5 302V313M1128.5 300V307M1131.5 306V314M1132.5 297V310M1133.5 292V306M1134.5 295V303M1135.5 291V298M1136.5 290V296M1137.5 292V302M1141.5 291V303M1142.5 287V310M1143.5 298V304M1144.5 295V308M1145.5 306V311M1146.5 296V317M1148.5 293V304M1149.5 294V301M1151.5 280V303M1156.5 300V312M1157.5 304V310M1161.5 321V331M1164.5 341V353M1166.5 316V332M1167.5 320V326M1171.5 310V324M1178.5 304V314M1182.5 313V327M1186.5 311V320M1187.5 306V319M1188.5 300V315M1189.5 288V312M1190.5 254V273M1191.5 271V285M1193.5 277V285M1202.5 280V286M1204.5 277V292M1206.5 278V290M1207.5 275V285M1208.5 276V290M1209.5 277V283M1210.5 276V286M1212.5 263V272M1214.5 244V257M1218.5 265V276M1221.5 269V282M1222.5 268V274M1223.5 263V277M1224.5 256V266M1225.5 254V264M1233.5 272V280M1234.5 260V283M1236.5 272V280M1237.5 272V284M1238.5 273V288M1239.5 276V289M1242.5 280V292M1246.5 273V286M1247.5 274V288M1249.5 287V296M1251.5 302V308M1253.5 297V307M1256.5 290V299M1257.5 287V293M1258.5 283V293M1259.5 278V293M1260.5 278V292M1263.5 279V292M1265.5 288V300M1267.5 280V295M1268.5 284V290M1270.5 284V295M1272.5 289V299M1276.5 294V307M1277.5 297V309M1278.5 293V300M1279.5 285V298M1280.5 280V292M1282.5 282V287M1284.5 276V285M1286.5 271V280M1287.5 266V279M1288.5 270V277M1295.5 284V291M1298.5 281V304M1299.5 289V296M1305.5 302V316M1306.5 306V312M1308.5 300V311M1309.5 295V301M1310.5 289V303M1311.5 286V302M1312.5 290V296M1313.5 274V290M1314.5 279V287M1316.5 285V293M1318.5 282V297M1319.5 278V293M1322.5 279V286M1323.5 271V282M1326.5 263V269M1328.5 257V268M1329.5 259V274M1331.5 262V274M1332.5 260V270M1333.5 258V266M1334.5 259V265M1335.5 253V267M1336.5 248V258M1341.5 259V269M1342.5 259V267M1343.5 253V262M1344.5 252V263M1345.5 247V267M1347.5 252V263M1349.5 260V269M1354.5 271V278M1356.5 264V277M1357.5 266V279M1358.5 265V275M1363.5 274V284M1365.5 274V285M1366.5 272V280M1367.5 269V284M1369.5 275V283M1370.5 274V282M1373.5 285V294M1375.5 287V294M1378.5 281V289M1382.5 297V308M1383.5 289V310M1384.5 273V283M1385.5 267V277M1386.5 263V271M1387.5 254V263M1390.5 270V280M1392.5 262V275M1394.5 261V273M1396.5 262V277M1397.5 256V269M1398.5 249V263M1399.5 247V260M1400.5 248V261M1402.5 248V260M1403.5 238V254M1405.5 231V256M1407.5 240V252M1409.5 252V259M1411.5 248V256M1414.5 241V254M1416.5 240V245M1417.5 162V173M1418.5 148V154M1419.5 152V158M1427.5 196V210M1428.5 188V200M1429.5 170V188M1432.5 172V183M1436.5 199V206M1437.5 187V195M1438.5 185V196M1439.5 183V195M1443.5 207V218M1446.5 226V235M1450.5 216V230M1451.5 214V225M1454.5 230V244M1458.5 251V265M1459.5 250V267M1461.5 240V248M1462.5 238V243M1463.5 231V241M1464.5 226V241M1465.5 225V236M1467.5 222V247M1471.5 237V243M1473.5 241V249M1474.5 236V243M1476.5 229V249M1477.5 230V242M1478.5 228V233M1479.5 223V236M1482.5 237V263M1484.5 226V240M1485.5 223V234M1486.5 215V230M1487.5 208V225M1488.5 197V211M1491.5 178V189M1493.5 177V185M1494.5 178V185M1497.5 168V178M1500.5 189V199M1503.5 184V195M1506.5 191V201M1508.5 194V214M1512.5 214V222M1513.5 217V225M1515.5 211V217M1516.5 195V210M1518.5 191V199M1519.5 188V195M1520.5 180V192M1522.5 181V187M1523.5 181V191M1524.5 175V189M1529.5 192V197M1531.5 181V197M1532.5 167V193M1533.5 175V183M1536.5 184V199M1537.5 192V205M1541.5 190V201M1542.5 190V198M1545.5 213V228M1547.5 214V227M1548.5 214V224M1549.5 215V225M1551.5 193V204M1552.5 184V197M1553.5 191V198M1556.5 196V203M1557.5 189V203M1562.5 208V214M1563.5 201V222M1566.5 193V204M1568.5 188V197M1569.5 178V190M1571.5 171V177M1573.5 181V187M1578.5 178V200M1579.5 158V169M1584.5 197V211M1585.5 198V204M1586.5 192V203M1588.5 178V192M1589.5 177V188M1590.5 174V187M1591.5 176V182M1592.5 167V190M1593.5 169V181M1594.5 171V181M1596.5 168V176M1601.5 177V191M1602.5 187V193M1604.5 195V204M1605.5 191V201M1610.5 199V205M1615.5 221V233M1616.5 227V239M1618.5 239V254M1620.5 232V239M1627.5 284V309M1628.5 279V295M1630.5 276V289M1631.5 272V288M1634.5 262V283M1641.5 288V302M1643.5 293V303M1644.5 285V291M1645.5 279V286M1650.5 294V322M1651.5 317V323M1655.5 314V325M1656.5 308V315M1661.5 304V319M1662.5 308V329M1666.5 318V326M1667.5 319V328M1672.5 340V348M1674.5 342V369M1675.5 334V344M1676.5 326V332M1677.5 317V329M1678.5 313V328M1682.5 337V351M1683.5 332V346M1684.5 331V336M1685.5 327V337M1688.5 305V318M1689.5 307V321M1690.5 313V323M1693.5 303V312M1694.5 302V313M1697.5 314V324M1701.5 331V346M1706.5 369V387M1708.5 361V375M1709.5 358V363M1710.5 361V368M1713.5 360V372M1714.5 362V370M1718.5 373V385M1721.5 355V371M1722.5 351V364M1723.5 347V360M1732.5 357V363M1733.5 362V377M1738.5 355V363M1740.5 346V360M1747.5 371V383M1748.5 365V379M1754.5 376V386M1755.5 381V389M1756.5 374V386M1758.5 374V387M1760.5 377V388M1763.5 370V379M1764.5 366V377M1765.5 367V377M1766.5 367V381M1767.5 359V381M1768.5 360V374M1416.5 55V175M1482.5 235V265" stroke="#ff6060" stroke-width="1" fill="none"/>
<polyline points="32.3,568.0 33.5,556.0 38.0,545.7 45.0,540.0 52.0,534.5 62.0,526.5 68.0,525.6 80.0,528.0 95.0,538.0 110.0,548.5 127.0,560.0 143.5,569.0 156.0,575.0 168.8,581.6 181.5,584.0 194.2,589.0 207.0,596.8 224.0,608.0 237.4,622.0 252.6,632.3 265.3,640.0 278.0,648.8 290.7,657.7 300.8,665.3 313.5,674.0 320.6,679.3 333.8,692.0 346.5,702.0 359.2,712.3 372.0,718.6 385.3,723.4 393.0,704.4 403.0,683.5 413.2,661.9 420.8,647.3 424.0,642.8 432.3,653.6 441.0,659.3 450.0,665.0 453.8,658.0 458.9,645.4 465.3,635.5 472.9,624.0 480.5,616.5 490.9,609.0 501.0,605.6 513.8,603.6 531.5,601.8 549.3,599.8 567.0,598.0 584.8,596.0 595.0,594.0 602.6,590.4 610.2,586.6 615.3,583.6 620.4,582.3 633.0,584.0 650.8,585.3 671.0,586.6 691.4,586.0 709.0,584.6 725.4,584.0 750.8,580.0 776.0,572.6 801.5,566.0 814.2,562.4 826.9,554.8 842.0,547.0 857.4,538.3 872.6,529.4 887.8,519.3 900.5,510.4 915.7,499.0 928.4,488.8 943.7,476.0 958.9,463.5 974.0,450.8 986.8,440.6 996.4,435.0 1011.7,424.0 1026.9,415.0 1034.5,410.6 1047.2,400.0 1062.4,387.2 1077.7,375.8 1093.4,367.0 1108.0,359.3 1123.4,351.7 1138.6,343.6 1153.8,336.0 1164.0,331.4 1176.6,325.0 1189.3,318.7 1195.2,315.0 1210.5,308.8 1225.7,305.0 1246.0,301.0 1266.3,296.8 1286.6,294.3 1307.0,292.3 1322.0,289.7 1337.4,286.0 1352.6,281.6 1373.0,281.0 1398.3,280.9 1416.8,277.5 1423.7,277.5 1446.5,279.6 1479.5,282.6 1580.0,290.0 1605.4,292.6 1625.7,294.4 1637.0,295.0 1641.0,288.8 1647.3,290.0 1651.0,296.4 1656.0,306.6 1661.2,313.0 1666.3,316.7 1671.4,321.3 1676.4,323.9 1681.5,325.6 1686.6,325.6 1691.7,323.9 1698.0,322.3 1703.0,324.4 1709.4,330.7 1717.0,337.0 1724.7,341.6 1735.3,346.0 1745.0,349.7 1757.7,353.5 1768.6,355.3" fill="none" stroke="#ff00ff" stroke-width="1" />
<polyline points="3.0,474.0 25.0,474.0 31.0,477.0 40.0,487.5 50.0,492.0 65.0,494.4 76.0,500.0 90.0,511.7 100.0,524.0 115.0,538.0 127.0,552.0 133.3,560.0 143.5,566.0 156.0,572.7 166.3,582.8 181.5,588.0 191.7,595.5 207.0,603.0 219.6,608.0 227.0,614.6 237.4,623.5 252.6,633.6 265.3,643.8 278.0,654.0 290.7,669.0 300.8,675.5 313.5,687.0 320.6,693.0 333.8,706.0 349.0,721.0 352.8,723.0 385.3,723.4 386.0,709.5 393.0,703.8 398.0,700.0 406.9,697.4 416.4,694.9 422.0,691.0 427.2,686.6 433.5,686.0 451.3,684.0 455.0,676.0 460.2,663.5 467.8,650.8 475.4,640.6 483.0,634.3 488.4,629.7 501.0,623.4 513.8,619.0 531.5,613.0 544.2,611.5 556.9,605.6 569.6,601.8 582.3,599.8 595.0,598.0 607.7,596.0 617.8,593.7 630.5,591.0 640.7,589.6 658.4,589.0 683.8,589.0 696.5,588.6 706.6,587.0 714.2,584.8 729.5,584.3 738.0,582.2 750.8,577.7 763.5,568.8 781.2,562.4 796.4,557.9 804.0,556.0 814.2,549.7 826.9,542.0 842.0,537.8 852.3,532.0 865.0,524.4 877.7,517.3 887.8,510.4 900.5,496.4 910.7,488.8 920.8,478.7 928.4,471.0 941.0,459.6 955.8,449.4 971.0,440.5 986.3,430.4 996.4,425.3 1011.7,419.0 1024.4,415.0 1034.5,410.0 1047.2,397.4 1057.4,384.7 1065.0,375.8 1072.6,371.5 1082.7,368.2 1093.4,363.0 1108.0,355.5 1123.4,349.0 1136.0,341.5 1148.7,335.2 1161.4,332.6 1174.0,331.9 1187.6,329.0 1195.2,321.5 1205.4,316.4 1218.0,308.8 1230.8,305.0 1246.0,302.0 1256.0,301.0 1281.5,301.0 1289.0,298.6 1322.0,298.0 1332.3,292.3 1345.0,286.7 1352.6,285.0 1390.7,285.0 1400.8,280.9 1413.5,276.5 1418.6,269.4 1423.7,258.0 1433.8,247.9 1441.4,244.0 1446.5,244.0 1456.6,247.9 1481.5,247.0 1489.0,240.7 1499.3,232.5 1512.0,229.2 1524.7,222.9 1537.4,218.3 1552.6,217.3 1567.8,214.0 1583.0,207.7 1595.2,203.8 1608.0,203.0 1618.0,209.0 1630.8,222.8 1639.6,230.5 1651.0,241.9 1661.2,253.3 1671.4,263.5 1684.0,273.6 1696.8,278.7 1707.0,288.8 1717.0,301.5 1727.2,309.0 1735.3,315.5 1745.0,320.6 1757.7,329.4 1768.6,335.8" fill="none" stroke="#ffff00" stroke-width="1" />
</g>
<text x="23" y="539.6" font-size="12" fill="#ff00ff" textLength="14" lengthAdjust="spacingAndGlyphs">[1]</text>
<path d="M24.0 541.5L30.5 550.5L37.0 541.5M30.5 542.5V550.5" stroke="#ff00ff" fill="none" stroke-width="1"/>
<path d="M27.0 545.5L34.0 545.5L30.5 550.5Z" fill="#ff00ff"/>
<circle cx="34.4" cy="555" r="3.6" fill="#ff00ff"/>
<path d="M377.5 674L381 670.5L384.5 674L381 677.5Z" fill="#ff00ff"/>
<path d="M379.3 694.6L385.3 686.6L391.3 694.6M385.3 686.6V697" stroke="#ff00ff" fill="none" stroke-width="1"/>
<path d="M381.8 691.6L388.8 691.6L385.3 686.6Z" fill="#ff00ff"/>
<rect x="383.8" y="696" width="3" height="2" fill="#ff00ff"/>
<text x="378.3" y="715.5" font-size="12" fill="#ff00ff" textLength="14" lengthAdjust="spacingAndGlyphs">[1]</text>
<circle cx="424.6" cy="646.6" r="3.6" fill="#ffff00"/>
<path d="M414.2 671.8L420.2 663.8L426.2 671.8M420.2 663.8V673.5" stroke="#ffff00" fill="none" stroke-width="1"/>
<path d="M416.7 668.8L423.7 668.8L420.2 663.8Z" fill="#ffff00"/>
<rect x="418.7" y="672.5" width="3" height="2" fill="#ffff00"/>
<text x="413.5" y="690.5" font-size="12" fill="#ffff00" textLength="14" lengthAdjust="spacingAndGlyphs">[1]</text>
<text x="1411.7" y="144.5" font-size="12" fill="#ffff00" textLength="14" lengthAdjust="spacingAndGlyphs">[1]</text>
<path d="M1411.5 145L1418 153L1424.5 145M1418 146V153" stroke="#ffff00" fill="none" stroke-width="1"/>
<path d="M1414.5 148L1421.5 148L1418 153Z" fill="#ffff00"/>
<circle cx="1413.8" cy="174" r="3.2" fill="#ffff00"/>
<text x="1633.5" y="278.8" font-size="12" fill="#ff00ff" textLength="14" lengthAdjust="spacingAndGlyphs">[1]</text>
<path d="M1633.9 279L1640.4 288L1646.9 279M1640.4 280V288" stroke="#ff00ff" fill="none" stroke-width="1"/>
<path d="M1636.9 283L1643.9 283L1640.4 288Z" fill="#ff00ff"/>
<circle cx="1644.8" cy="300" r="3.6" fill="#ff00ff"/>
<path d="M1650.2 307.7L1653.7 304.2L1657.2 307.7L1653.7 311.2Z" fill="#ff00ff"/>
<text x="1664.5" y="314.3" font-size="12" fill="#ff00ff" textLength="14" lengthAdjust="spacingAndGlyphs">[1]</text>
<path d="M1665.0 314.6L1671.5 323.5L1678.0 314.6M1671.5 315.6V323.5" stroke="#ff00ff" fill="none" stroke-width="1"/>
<path d="M1668.0 318.5L1675.0 318.5L1671.5 323.5Z" fill="#ff00ff"/>
<path d="M1653.4 325.2L1659.4 317.2L1665.4 325.2M1659.4 317.2V327.5" stroke="#ff00ff" fill="none" stroke-width="1"/>
<path d="M1655.9 322.2L1662.9 322.2L1659.4 317.2Z" fill="#ff00ff"/>
<rect x="1657.9" y="326.5" width="3" height="2" fill="#ff00ff"/>
<circle cx="1675.3" cy="332.4" r="3.8" fill="#ff00ff"/>
<text x="1652.4" y="346.2" font-size="12" fill="#ff00ff" textLength="14" lengthAdjust="spacingAndGlyphs">[1]</text>
<text x="311" y="805.5" font-size="11" fill="#00ffff" textLength="62.5" lengthAdjust="spacingAndGlyphs">6920 -5.00%</text>
<path d="M346.5 793.5H360.5" stroke="#fff" stroke-width="1" shape-rendering="crispEdges"/><rect x="346" y="792" width="3" height="3" fill="#fff"/>
<text x="361" y="797.5" font-size="12" fill="#fff" textLength="28" lengthAdjust="spacingAndGlyphs">6920</text>
<text x="1383.8" y="52.5" font-size="11" fill="#ff5050" textLength="62" lengthAdjust="spacingAndGlyphs">7782 12.46%</text>
<path d="M1420 55.5H1433" stroke="#fff" stroke-width="1" shape-rendering="crispEdges"/><path d="M1419 55.5l3 -2.5v5z" fill="#fff"/>
<text x="1434.5" y="58.5" font-size="12" fill="#fff" textLength="28" lengthAdjust="spacingAndGlyphs">7782</text>
<text x="1686" y="404.5" font-size="11" fill="#00ffff" textLength="62" lengthAdjust="spacingAndGlyphs">7388 -5.06%</text>
<g font-size="12" fill="#ffffff">
<rect x="1819" y="46" width="3" height="1" fill="#4a4a4a" shape-rendering="crispEdges"/>
<text x="1823.5" y="50.3" textLength="27.4" lengthAdjust="spacingAndGlyphs">7792</text>
<rect x="1819" y="87" width="3" height="1" fill="#4a4a4a" shape-rendering="crispEdges"/>
<text x="1823.5" y="91.4" textLength="27.4" lengthAdjust="spacingAndGlyphs">7744</text>
<rect x="1819" y="128" width="3" height="1" fill="#4a4a4a" shape-rendering="crispEdges"/>
<text x="1823.5" y="132.5" textLength="27.4" lengthAdjust="spacingAndGlyphs">7696</text>
<rect x="1819" y="170" width="3" height="1" fill="#4a4a4a" shape-rendering="crispEdges"/>
<text x="1823.5" y="173.6" textLength="27.4" lengthAdjust="spacingAndGlyphs">7648</text>
<rect x="1819" y="211" width="3" height="1" fill="#4a4a4a" shape-rendering="crispEdges"/>
<text x="1823.5" y="214.7" textLength="27.4" lengthAdjust="spacingAndGlyphs">7600</text>
<rect x="1819" y="252" width="3" height="1" fill="#4a4a4a" shape-rendering="crispEdges"/>
<text x="1823.5" y="255.8" textLength="27.4" lengthAdjust="spacingAndGlyphs">7552</text>
<rect x="1819" y="293" width="3" height="1" fill="#4a4a4a" shape-rendering="crispEdges"/>
<text x="1823.5" y="296.9" textLength="27.4" lengthAdjust="spacingAndGlyphs">7504</text>
<rect x="1819" y="334" width="3" height="1" fill="#4a4a4a" shape-rendering="crispEdges"/>
<text x="1823.5" y="338.0" textLength="27.4" lengthAdjust="spacingAndGlyphs">7456</text>
<rect x="1819" y="375" width="3" height="1" fill="#4a4a4a" shape-rendering="crispEdges"/>
<text x="1823.5" y="379.1" textLength="27.4" lengthAdjust="spacingAndGlyphs">7408</text>
<rect x="1819" y="416" width="3" height="1" fill="#4a4a4a" shape-rendering="crispEdges"/>
<text x="1823.5" y="420.2" textLength="27.4" lengthAdjust="spacingAndGlyphs">7360</text>
<rect x="1819" y="457" width="3" height="1" fill="#4a4a4a" shape-rendering="crispEdges"/>
<text x="1823.5" y="461.3" textLength="27.4" lengthAdjust="spacingAndGlyphs">7312</text>
<rect x="1819" y="498" width="3" height="1" fill="#4a4a4a" shape-rendering="crispEdges"/>
<text x="1823.5" y="502.4" textLength="27.4" lengthAdjust="spacingAndGlyphs">7264</text>
<rect x="1819" y="540" width="3" height="1" fill="#4a4a4a" shape-rendering="crispEdges"/>
<text x="1823.5" y="543.5" textLength="27.4" lengthAdjust="spacingAndGlyphs">7216</text>
<rect x="1819" y="622" width="3" height="1" fill="#4a4a4a" shape-rendering="crispEdges"/>
<text x="1823.5" y="625.7" textLength="27.4" lengthAdjust="spacingAndGlyphs">7120</text>
<rect x="1819" y="663" width="3" height="1" fill="#4a4a4a" shape-rendering="crispEdges"/>
<text x="1823.5" y="666.8" textLength="27.4" lengthAdjust="spacingAndGlyphs">7072</text>
<rect x="1819" y="704" width="3" height="1" fill="#4a4a4a" shape-rendering="crispEdges"/>
<text x="1823.5" y="707.9" textLength="27.4" lengthAdjust="spacingAndGlyphs">7024</text>
<rect x="1819" y="745" width="3" height="1" fill="#4a4a4a" shape-rendering="crispEdges"/>
<text x="1823.5" y="749.0" textLength="27.4" lengthAdjust="spacingAndGlyphs">6976</text>
<rect x="1819" y="786" width="3" height="1" fill="#4a4a4a" shape-rendering="crispEdges"/>
<text x="1823.5" y="790.1" textLength="27.4" lengthAdjust="spacingAndGlyphs">6928</text>
</g>
<rect x="1819" y="354" width="79" height="15" fill="#ff6060" shape-rendering="crispEdges"/>
<text x="1822.5" y="366.3" font-size="12" fill="#200808" textLength="27.4" lengthAdjust="spacingAndGlyphs">7422</text>
<rect x="1818" y="565" width="48" height="47" fill="#00ffff" shape-rendering="crispEdges"/>
<g font-size="12" fill="#0a1a1a"><text x="1822.5" y="576.5" textLength="25" lengthAdjust="spacingAndGlyphs">-477</text><text x="1822.5" y="592.3" textLength="27" lengthAdjust="spacingAndGlyphs">7157</text><text x="1822.5" y="608" textLength="38.5" lengthAdjust="spacingAndGlyphs">-6.25%</text></g>
<rect x="1803.5" y="30.5" width="9" height="9" fill="none" stroke="#4a4a4a" stroke-width="1"/>
<circle cx="1807.5" cy="51.6" r="7.6" fill="#ff0000"/><circle cx="1804.9" cy="49.3" r="1" fill="#000"/><circle cx="1810.1" cy="49.3" r="1" fill="#000"/><path d="M1803.8 55.8Q1807.5 50.5 1811.2 55.8" stroke="#000" stroke-width="1" fill="none"/>
<rect x="1890" y="441" width="11" height="32" fill="#3c3c3c"/><path d="M1897.5 452.5L1893.5 457L1897.5 461.5" stroke="#d0d0d0" stroke-width="1.2" fill="none"/>
<g shape-rendering="crispEdges">
<rect x="1901" y="0" width="1" height="867" fill="#d8d8d8"/>
<rect x="1902" y="0" width="1" height="867" fill="#a8a8a8"/>
<rect x="1903" y="0" width="2" height="867" fill="#f4f4f4"/>
<rect x="1905" y="0" width="1" height="867" fill="#c0c0c0"/>
<rect x="1906" y="0" width="3" height="867" fill="#f6f6f6"/>
<rect x="1909" y="0" width="1" height="867" fill="#0a6ccc"/>
</g>
<defs><linearGradient id="bl" x1="0" y1="0" x2="0" y2="1"><stop offset="0" stop-color="#1a73c8"/><stop offset="0.5" stop-color="#1a73c8"/><stop offset="1" stop-color="#a8a8a8"/></linearGradient></defs>
<rect x="1902" y="0" width="1" height="30" fill="url(#bl)"/>
<g shape-rendering="crispEdges" fill="#3a3a3a">
<rect x="0" y="1" width="696" height="1"/><rect x="0" y="21" width="696" height="1"/>
<rect x="43" y="1" width="1" height="21"/>
<rect x="96" y="1" width="1" height="21"/>
<rect x="156" y="1" width="1" height="21"/>
<rect x="217" y="1" width="1" height="21"/>
<rect x="261" y="1" width="1" height="21"/>
<rect x="305" y="1" width="1" height="21"/>
<rect x="388" y="1" width="1" height="21"/>
<rect x="432" y="1" width="1" height="21"/>
<rect x="487" y="1" width="1" height="21"/>
<rect x="544" y="1" width="1" height="21"/>
<rect x="588" y="1" width="1" height="21"/>
<rect x="643" y="1" width="1" height="21"/>
</g>
<rect x="696.5" y="1.5" width="58" height="20" fill="none" stroke="#f06a10" stroke-width="1"/>
<g font-family="Liberation Sans, Noto Sans CJK SC, sans-serif" font-size="14" fill="#b4b4b4">
<text x="6.2" y="16.1">分时</text>
<text x="50.2" y="16.1">5</text><text x="57.98" y="16.1">分钟</text>
<text x="103.2" y="16.1">15</text><text x="118.77" y="16.1">分钟</text>
<text x="163.2" y="16.1">30</text><text x="178.77" y="16.1">分钟</text>
<text x="225.2" y="16.1">日线</text>
<text x="269.2" y="16.1">周线</text>
<text x="312.2" y="16.1">更多周期</text>
<text x="396.2" y="16.1">复权</text>
<text x="440.2" y="16.1">交易</text>
<text x="494.2" y="16.1">控制台</text>
<text x="551.2" y="16.1">刷新</text>
<text x="595.2" y="16.1">绘图</text>
<text x="650.2" y="16.1">联动</text>
<text x="704" y="16.1" fill="#f06a10">高低点</text>
</g>
<path d="M376.7 7.5h8.4l-4.2 6.5z" fill="#b4b4b4"/>
<path d="M474.7 7.5h8.4l-4.2 6.5z" fill="#b4b4b4"/>
<path d="M631 7.5h8.4l-4.2 6.5z" fill="#b4b4b4"/>
<path d="M685.2 7.5h8.4l-4.2 6.5z" fill="#b4b4b4"/>
<text x="4.2" y="38.3" font-size="12" fill="#fff" textLength="33.8" lengthAdjust="spacingAndGlyphs">PF000</text>
<text x="44" y="38.3" font-size="12" fill="#fff" font-family="Liberation Sans, Noto Sans CJK SC, sans-serif">短纤指数</text>
<text x="92.0" y="38.3" font-size="12" fill="#fff">0</text>
<g shape-rendering="crispEdges"><rect x="103" y="27" width="8" height="8" fill="#00ffff"/><rect x="113.5" y="27.5" width="5" height="6" fill="none" stroke="#00e0e0"/><rect x="103.5" y="36.5" width="7" height="5" fill="none" stroke="#00e0e0"/><rect x="112.5" y="36.5" width="6" height="5" fill="none" stroke="#00e0e0"/><rect x="107" y="37" width="1" height="5" fill="#00e0e0"/><rect x="104" y="39" width="7" height="1" fill="#00e0e0"/></g><path d="M113.5 41L118 37" stroke="#00e0e0" stroke-width="1"/>
<text x="124.6" y="38.3" font-size="12" fill="#00ffff">3</text>
<text x="131.3" y="38.3" font-size="12" fill="#00ffff" font-family="Liberation Sans, Noto Sans CJK SC, sans-serif">分钟线</text>
<text x="176" y="38.3" font-size="12" fill="#ffff00" textLength="103.8" lengthAdjust="spacingAndGlyphs">2023/4/7 22:57:00</text>
<text x="287.5" y="38.3" font-size="12" fill="#ff5050" textLength="48.5" lengthAdjust="spacingAndGlyphs">C= 7422</text>
<text x="345.7" y="38.3" font-size="12" fill="#ff5050" textLength="13.2" lengthAdjust="spacingAndGlyphs">10</text>
<text x="367" y="38.3" font-size="12" fill="#ff5050" textLength="34" lengthAdjust="spacingAndGlyphs">0.13%</text>
<text x="407" y="38.3" font-size="12" fill="#fff" textLength="50.6" lengthAdjust="spacingAndGlyphs">O= 7412</text>
<text x="463.7" y="38.3" font-size="12" fill="#ff0000" textLength="49.3" lengthAdjust="spacingAndGlyphs">H= 7422</text>
<text x="518.5" y="38.3" font-size="12" fill="#f0a000" textLength="46.9" lengthAdjust="spacingAndGlyphs">L= 7410</text>
<rect x="570.5" y="28.5" width="10" height="10" fill="#ff7a1a"/><rect x="573" y="31" width="5" height="5" fill="#ff5050"/>
<text x="582" y="38.3" font-size="12" fill="#fff" textLength="58.8" lengthAdjust="spacingAndGlyphs">IceSlide02</text>
<g font-size="12.4" fill="#fff">
<text x="93.0" y="840.6" textLength="66" lengthAdjust="spacingAndGlyphs">2023-03-14</text>
<text x="189.0" y="840.6" textLength="66" lengthAdjust="spacingAndGlyphs">2023-03-15</text>
<text x="286.0" y="840.6" textLength="66" lengthAdjust="spacingAndGlyphs">2023-03-16</text>
<text x="382.0" y="840.6" textLength="66" lengthAdjust="spacingAndGlyphs">2023-03-17</text>
<text x="479.0" y="840.6" textLength="66" lengthAdjust="spacingAndGlyphs">2023-03-20</text>
<text x="576.0" y="840.6" textLength="66" lengthAdjust="spacingAndGlyphs">2023-03-21</text>
<text x="672.0" y="840.6" textLength="66" lengthAdjust="spacingAndGlyphs">2023-03-22</text>
<text x="769.0" y="840.6" textLength="66" lengthAdjust="spacingAndGlyphs">2023-03-23</text>
<text x="865.0" y="840.6" textLength="66" lengthAdjust="spacingAndGlyphs">2023-03-24</text>
<text x="962.0" y="840.6" textLength="66" lengthAdjust="spacingAndGlyphs">2023-03-27</text>
<text x="1058.0" y="840.6" textLength="66" lengthAdjust="spacingAndGlyphs">2023-03-28</text>
<text x="1155.0" y="840.6" textLength="66" lengthAdjust="spacingAndGlyphs">2023-03-29</text>
<text x="1251.0" y="840.6" textLength="66" lengthAdjust="spacingAndGlyphs">2023-03-30</text>
<text x="1348.0" y="840.6" textLength="66" lengthAdjust="spacingAndGlyphs">2023-03-31</text>
<text x="1445.2" y="840.6" textLength="66" lengthAdjust="spacingAndGlyphs">2023-04-03</text>
<text x="1604.9" y="840.6" textLength="66" lengthAdjust="spacingAndGlyphs">2023-04-06</text>
<text x="1700.8" y="840.6" textLength="66" lengthAdjust="spacingAndGlyphs">2023-04-07</text>
<rect x="1469" y="828" width="113" height="16" fill="#a80000" shape-rendering="crispEdges"/>
<text x="1469.5" y="840.6" fill="#d83030" textLength="32" lengthAdjust="spacingAndGlyphs">3-04-0</text>
<text x="1471.6" y="840.6" textLength="100" lengthAdjust="spacingAndGlyphs">2023-04-04 09:42</text>
</g>
<rect x="2.5" y="829.5" width="12" height="14" fill="none" stroke="#333"/><path d="M11.5 831.5v10l-6 -5z" fill="#555"/>
<rect x="1805" y="829" width="81" height="15" fill="#444"/>
<rect x="1885.5" y="829.5" width="12" height="14" fill="#0c0c0c" stroke="#333"/><path d="M1889 831.5v10l5.5 -5z" fill="#555"/>
<rect x="2" y="850" width="40" height="17" fill="#3a3a3a"/>
<text x="7.5" y="864.8" font-size="14" fill="#e0e0e0" font-family="Liberation Sans, Noto Sans CJK SC, sans-serif">指标</text>
<rect x="45.5" y="850.5" width="70" height="17" fill="none" stroke="#3a3a3a"/>
<g font-family="Liberation Sans, Noto Sans CJK SC, sans-serif" font-size="14" fill="#a8a8a8">
<text x="52" y="864.8">恢复默认</text>
<text x="125" y="864.8">成交量</text>
<text x="183" y="864.8">均线</text>
</g>
<text x="227.4" y="864.8" font-size="14.5" fill="#a8a8a8" textLength="42.6" lengthAdjust="spacingAndGlyphs">MACD</text>
<text x="287" y="864.8" font-size="14.5" fill="#a8a8a8" textLength="25.3" lengthAdjust="spacingAndGlyphs">KDJ</text>
<text x="328" y="864.8" font-size="14.5" fill="#a8a8a8" textLength="20.7" lengthAdjust="spacingAndGlyphs">RSI</text>
<text x="366.3" y="864.8" font-size="14.5" fill="#a8a8a8" textLength="33.2" lengthAdjust="spacingAndGlyphs">BOLL</text>
<text x="415.8" y="864.8" font-size="14.5" fill="#a8a8a8" textLength="23.2" lengthAdjust="spacingAndGlyphs">WR</text>
<text x="455" y="864.8" font-size="14.5" fill="#a8a8a8" textLength="29.7" lengthAdjust="spacingAndGlyphs">OBV</text>
<text x="502" y="864.8" font-size="14.5" fill="#a8a8a8" textLength="21.4" lengthAdjust="spacingAndGlyphs">CCI</text>
<text x="539.2" y="864.8" font-size="14.5" fill="#a8a8a8" textLength="18.8" lengthAdjust="spacingAndGlyphs">KD</text>
<text x="574.4" y="864.8" font-size="14.5" fill="#a8a8a8" textLength="33.9" lengthAdjust="spacingAndGlyphs">DMA</text>
<text x="625.4" y="864.8" font-size="14.5" fill="#a8a8a8" textLength="29.4" lengthAdjust="spacingAndGlyphs">TRIX</text>
<rect x="664.5" y="850.5" width="70" height="17" fill="none" stroke="#3a3a3a"/>
<text x="671" y="864.8" font-size="14" fill="#a8a8a8" font-family="Liberation Sans, Noto Sans CJK SC, sans-serif">更多指标</text>
<rect x="737.5" y="850.5" width="41" height="17" fill="none" stroke="#3a3a3a"/>
<text x="739" y="864.8" font-size="14" fill="#a8a8a8" font-family="Liberation Sans, Noto Sans CJK SC, sans-serif">模板</text>
<path d="M768.6 863.5h8.4l-4.2 -7z" fill="#a8a8a8"/>
<rect x="1676" y="796" width="156.5" height="26" rx="3" fill="#ffffff"/>
<defs><linearGradient id="ig" x1="0" y1="0" x2="1" y2="1"><stop offset="0" stop-color="#6a7cf4"/><stop offset="1" stop-color="#c85a9a"/></linearGradient><linearGradient id="ibg" x1="0" y1="0" x2="1" y2="0"><stop offset="0" stop-color="#ffffff"/><stop offset="0.3" stop-color="#e8f4ff"/><stop offset="1" stop-color="#fbeefc"/></linearGradient></defs>
<rect x="1807" y="798" width="24" height="22" fill="url(#ibg)"/>
<g transform="rotate(-13 1670 807)"><rect x="1656.3" y="793.6" width="27.4" height="26.6" rx="3.5" fill="#f0531c"/><path d="M1678 800.5c-5 -2.6 -14 -1.6 -15 2.3c-1 4.2 14 2.2 13.6 6.3c-.4 3.7 -10.5 4.2 -15.5 1.6" stroke="#fff" stroke-width="3.2" fill="none" stroke-linecap="round"/></g>
<text x="1691.6" y="814.3" font-size="15" font-weight="bold" fill="#0c6cd6" font-family="Liberation Sans, Noto Sans CJK SC, sans-serif">中</text>
<circle cx="1720" cy="806" r="1.6" fill="none" stroke="#0c6cd6" stroke-width="1.3"/><path d="M1726.5 809.5c1.8 0 2.4 1.8 1.8 3.2c-.5 1.2 -1.6 2 -2.8 2.3c.8 -.7 1.2 -1.5 1.1 -2.4c-1.2 -.2 -1.6 -1 -1.6 -1.7c0 -.8 .7 -1.4 1.5 -1.4z" fill="#0c6cd6"/>
<rect x="1744" y="801" width="6" height="10.5" rx="3" fill="#0c6cd6"/><path d="M1741.6 808.5c0 7 10.8 7 10.8 0" stroke="#0c6cd6" stroke-width="1.3" fill="none"/><path d="M1747 813.5v2.3M1744.5 816.3h5" stroke="#0c6cd6" stroke-width="1.3"/>
<rect x="1764.2" y="803.2" width="14.4" height="11.6" rx="1.8" fill="#0c6cd6"/><g fill="#fff"><rect x="1766" y="805.3" width="1.6" height="1.6"/><rect x="1768.8" y="805.3" width="1.6" height="1.6"/><rect x="1771.6" y="805.3" width="1.6" height="1.6"/><rect x="1774.4" y="805.3" width="1.6" height="1.6"/><rect x="1766" y="808.1" width="1.6" height="1.6"/><rect x="1768.8" y="808.1" width="1.6" height="1.6"/><rect x="1771.6" y="808.1" width="1.6" height="1.6"/><rect x="1774.4" y="808.1" width="1.6" height="1.6"/><rect x="1766" y="811" width="1.6" height="1.6"/><rect x="1768.8" y="811" width="4.4" height="1.6"/><rect x="1774.4" y="811" width="1.6" height="1.6"/></g>
<path d="M1792 802l-4.2 2.2l1.4 3.8l2.3 -.8v8.3h8.2v-8.3l2.3 .8l1.4 -3.8l-4.2 -2.2c-.8 1.5 -5.6 1.5 -6.4 0z" fill="#0c6cd6"/>
<g fill="url(#ig)"><rect x="1813" y="803" width="5.8" height="5.8" rx="1.4"/><rect x="1813" y="810.2" width="5.8" height="5.8" rx="1.4"/><rect x="1820.2" y="810.2" width="5.8" height="5.8" rx="1.4"/><rect x="1820.2" y="803" width="5.8" height="5.8" rx="1.4"/></g><rect x="1822" y="804.6" width="2.2" height="2.2" rx=".5" fill="#fff"/>
</svg>
</body></html>
